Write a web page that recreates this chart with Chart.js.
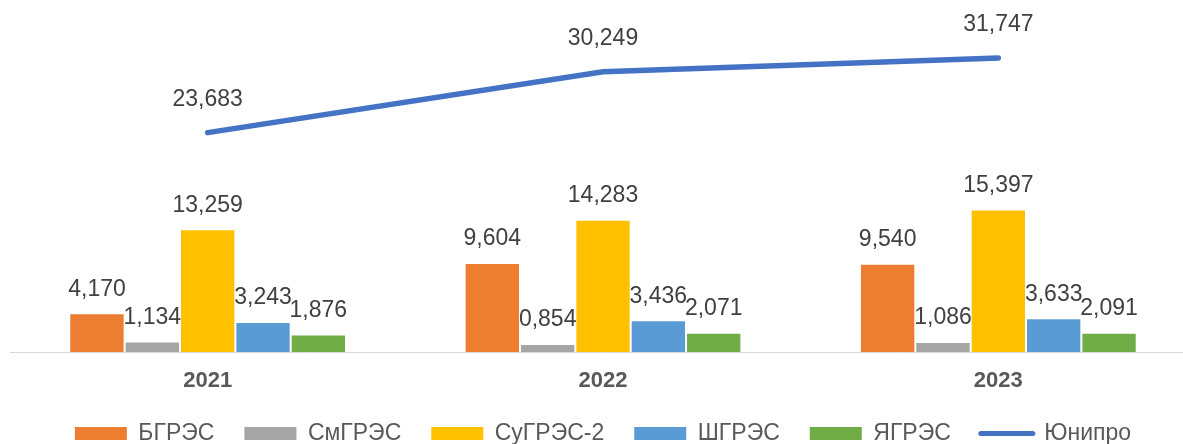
<!DOCTYPE html>
<html>
<head>
<meta charset="utf-8">
<script src="https://cdn.jsdelivr.net/npm/chart.js@4"></script>
<style>
  html, body { margin: 0; padding: 0; background: #fff; overflow: hidden; }
  #wrap { width: 1183px; height: 444px; overflow: hidden; }
</style>
</head>
<body>
<div id="wrap"><canvas id="chart" width="1196" height="444"></canvas></div>
<script>
// values
const years = ["2021", "2022", "2023"];
const bgres = [4.170, 9.604, 9.540];
const smgres = [1.134, 0.854, 1.086];
const sugres2 = [13.259, 14.283, 15.397];
const shgres = [3.243, 3.436, 3.633];
const yagres = [1.876, 2.071, 2.091];
const unipro = [23.683, 30.249, 31.747];

function fmt(v) {
    return v.toFixed(3).replace(".", ",");
}

function barSet(label, data, color) {
    return {
        type: "bar",
        label: label,
        data: data,
        backgroundColor: color,
        borderColor: "#ffffff",
        borderWidth: 1,
        barPercentage: 1,
        categoryPercentage: 0.7,
        order: 2
    };
}

// draws the numbers above bars and line points
const valueLabels = {
    id: "valueLabels",
    afterDatasetsDraw(chart) {
        const ctx = chart.ctx;
        ctx.save();
        ctx.font = "23px 'Liberation Sans', Arial, sans-serif";
        ctx.fillStyle = "#404040";
        ctx.textAlign = "center";
        ctx.textBaseline = "middle";
        chart.data.datasets.forEach(function (ds, i) {
            const meta = chart.getDatasetMeta(i);
            const off = ds.type === "line" ? 33 : 24;
            meta.data.forEach(function (el, j) {
                ctx.fillText(fmt(ds.data[j]), el.x, el.y - off);
            });
        });
        ctx.restore();
    }
};

const chart = new Chart("chart", {
    data: {
        labels: years,
        datasets: [
            barSet("БГРЭС", bgres, "#ED7D31"),
            barSet("СмГРЭС", smgres, "#A5A5A5"),
            barSet("СуГРЭС-2", sugres2, "#FFC000"),
            barSet("ШГРЭС", shgres, "#5B9BD5"),
            barSet("ЯГРЭС", yagres, "#70AD47"),
            {
                type: "line",
                label: "Юнипро",
                data: unipro,
                borderColor: "#4472C4",
                backgroundColor: "#4472C4",
                borderWidth: 5.5,
                borderCapStyle: "round",
                pointRadius: 0,
                tension: 0,
                order: 1
            }
        ]
    },
    plugins: [valueLabels],
    options: {
        responsive: false,
        animation: false,
        layout: {
            padding: { left: 10, right: 0, top: 0, bottom: -11 }
        },
        scales: {
            x: {
                grid: { display: false, drawTicks: false },
                border: { display: true, color: "#D9D9D9", width: 1 },
                ticks: {
                    padding: 16,
                    color: "#595959",
                    font: { family: "'Liberation Sans', Arial, sans-serif", size: 22, weight: "bold" }
                },
                afterFit(scale) {
                    scale.height = 40;
                }
            },
            y: {
                display: false,
                min: 0,
                max: 38
            }
        },
        plugins: {
            tooltip: { enabled: false },
            legend: {
                position: "bottom",
                labels: {
                    usePointStyle: true,
                    pointStyleWidth: 52,
                    boxHeight: 13,
                    padding: 30,
                    color: "#595959",
                    font: { family: "'Liberation Sans', Arial, sans-serif", size: 23 },
                    generateLabels(c) {
                        const items = Chart.defaults.plugins.legend.labels.generateLabels(c);
                        items.sort(function (a, b) { return a.datasetIndex - b.datasetIndex; });
                        items.forEach(function (it) {
                            const ds = c.data.datasets[it.datasetIndex];
                            if (ds.type === "line") {
                                it.pointStyle = "line";
                                it.lineWidth = 5;
                                it.strokeStyle = ds.borderColor;
                                it.lineCap = "round";
                            } else {
                                it.pointStyle = "rect";
                                it.lineWidth = 0;
                                it.strokeStyle = ds.backgroundColor;
                                it.fillStyle = ds.backgroundColor;
                            }
                        });
                        return items;
                    }
                }
            }
        }
    }
});
</script>
</body>
</html>
